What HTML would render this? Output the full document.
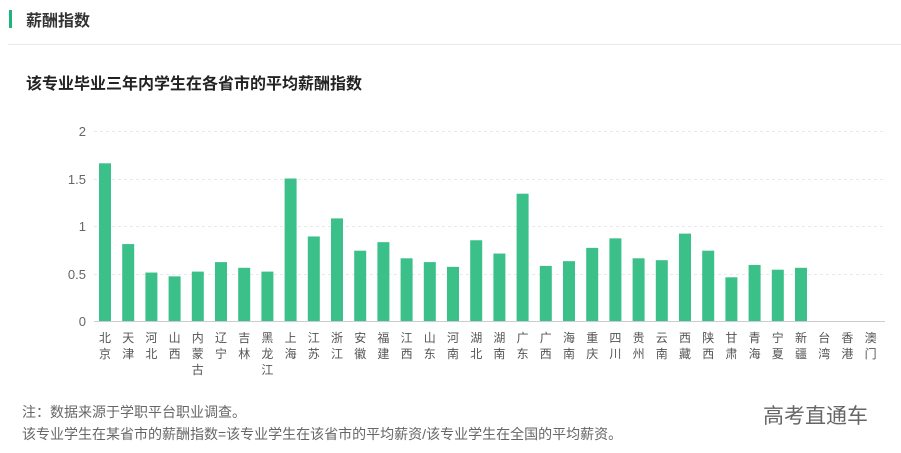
<!DOCTYPE html>
<html><head><meta charset="utf-8"><style>
body{margin:0;width:901px;height:453px;background:#fff;font-family:"Liberation Sans","Noto Sans CJK SC",sans-serif;overflow:hidden;position:relative}
.bar{position:absolute;left:9px;top:10px;width:3px;height:18px;background:#21b37a}
.h{position:absolute;left:26px;top:7px;font-size:16px;font-weight:bold;color:#333}
.line{position:absolute;left:8px;right:0;top:44px;height:1px;background:#e6e9ee}
.t{position:absolute;left:26px;top:70px;font-size:16px;font-weight:bold;color:#222}
.n{position:absolute;left:22px;font-size:14px;color:#666}
.wm{position:absolute;left:763px;top:400px;font-size:21px;color:#666}
</style></head><body>
<div class="bar"></div><div class="h">薪酬指数</div><div class="line"></div>
<div class="t">该专业毕业三年内学生在各省市的平均薪酬指数</div>
<svg width="901" height="453" style="position:absolute;left:0;top:0" font-family="Liberation Sans,Noto Sans CJK SC,sans-serif">
<g stroke="#e8e8e8" stroke-dasharray="3,3">
<line x1="94" x2="885" y1="131.5" y2="131.5"/><line x1="94" x2="885" y1="179.5" y2="179.5"/><line x1="94" x2="885" y1="226.5" y2="226.5"/><line x1="94" x2="885" y1="274.5" y2="274.5"/>
</g>
<line x1="94" x2="885" y1="321.5" y2="321.5" stroke="#ccc"/>
<g font-size="13" fill="#666" text-anchor="end">
<text x="86" y="136">2</text><text x="86" y="184">1.5</text><text x="86" y="231">1</text><text x="86" y="279">0.5</text><text x="86" y="326">0</text>
</g>
<g id="bars" fill="#3cc08a"></g>
<g id="labs" font-size="12" fill="#555" text-anchor="middle"></g>
</svg>
<div class="n" style="top:402px">注：数据来源于学职平台职业调查。</div>
<div class="n" style="top:424px">该专业学生在某省市的薪酬指数=该专业学生在该省市的平均薪资/该专业学生在全国的平均薪资。</div>
<div class="wm">高考直通车</div>
<script>
var names=["北京","天津","河北","山西","内蒙古","辽宁","吉林","黑龙江","上海","江苏","浙江","安徽","福建","江西","山东","河南","湖北","湖南","广东","广西","海南","重庆","四川","贵州","云南","西藏","陕西","甘肃","青海","宁夏","新疆","台湾","香港","澳门"];
var v=[1.66,0.81,0.51,0.47,0.52,0.62,0.56,0.52,1.5,0.89,1.08,0.74,0.83,0.66,0.62,0.57,0.85,0.71,1.34,0.58,0.63,0.77,0.87,0.66,0.64,0.92,0.74,0.46,0.59,0.54,0.56,0,0,0];
var b="",l="";
for(var i=0;i<names.length;i++){var cx=105+23.2*i;
if(v[i]>0){var h=v[i]*95;b+='<rect x="'+(cx-6)+'" y="'+(321-h)+'" width="12" height="'+h+'"/>';}
for(var j=0;j<names[i].length;j++){l+='<text x="'+cx+'" y="'+(342+j*16)+'">'+names[i][j]+'</text>';}}
document.getElementById("bars").innerHTML=b;document.getElementById("labs").innerHTML=l;
</script>
</body></html>
